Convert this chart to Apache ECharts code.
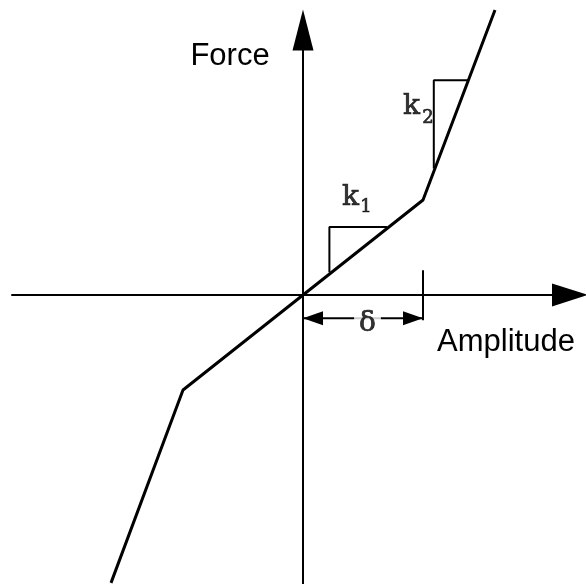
<!DOCTYPE html>
<html>
<head>
<meta charset="utf-8">
<script src="https://cdn.jsdelivr.net/npm/echarts@6/dist/echarts.min.js"></script>
<style>
  html, body { margin: 0; padding: 0; background: #fff; }
  #chart { width: 586px; height: 584px; }
</style>
</head>
<body>
<div id="chart"></div>
<script>
// Bilinear stiffness: amplitude in units of the gap δ, force in units of k1·δ
const amplitude = [-1.6, -1, 0, 1, 1.6];
const force = [-3.03, -1, 0, 1, 3.0];

// Slope triangles marking k1 and k2
const k1TriX = [0.22, 0.22, 0.70];
const k1TriY = [0.24, 0.715, 0.715];
const k2TriX = [1.09, 1.09, 1.38];
const k2TriY = [1.33, 2.26, 2.26];

// Gap dimension: end tick at δ and the double arrow under the axis
const gapTickX = [1, 1];
const gapTickY = [0.26, -0.265];
const gapLineX = [0, 1];
const gapLineY = [-0.245, -0.245];
const gapArrowDir = [-1, 1];

// Annotation texts and where they sit
const noteText = ['k', '1', 'k', '2', 'δ'];
const noteX = [0.396, 0.525, 0.904, 1.042, 0.5375];
const noteY = [1.026, 0.926, 1.984, 1.863, -0.305];
const noteKind = ['main', 'sub', 'main', 'sub', 'delta'];

const axisNames = ['Amplitude', 'Force'];

const pairs = (xs, ys) => xs.map((x, i) => [x, ys[i]]);

// serif glyphs get a thin same-colour outline so their strokes read as solid black
const plainText = { color: '#000', textBorderWidth: 0.7, textBorderColor: '#000', textShadowBlur: 0 };
const noteStyles = {
  main:  Object.assign({ fontFamily: 'DejaVu Serif', fontSize: 28 }, plainText),
  sub:   Object.assign({ fontFamily: 'DejaVu Serif', fontSize: 18 }, plainText),
  delta: Object.assign({ fontFamily: 'DejaVu Serif', fontSize: 28,
                         backgroundColor: '#fff', padding: [0, 5, 0, 5] }, plainText)
};

const chart = echarts.init(document.getElementById('chart'), null, { renderer: 'canvas' });

const hiddenAxisBits = {
  axisTick: { show: false },
  axisLabel: { show: false },
  splitLine: { show: false }
};

chart.setOption({
  animation: false,
  backgroundColor: '#fff',
  grid: { left: 12, right: 16, top: 30, bottom: 0, outerBoundsMode: 'none' },
  xAxis: Object.assign({
    type: 'value',
    min: -2.425,
    max: 2.225,
    axisLine: {
      onZero: true,
      symbol: ['none', 'triangle'],
      symbolSize: [23, 36],
      lineStyle: { color: '#000', width: 2 }
    }
  }, hiddenAxisBits),
  yAxis: Object.assign({
    type: 'value',
    min: -3.042,
    max: 2.789,
    axisLine: {
      onZero: true,
      symbol: ['none', 'triangle'],
      symbolSize: [21, 41],
      lineStyle: { color: '#000', width: 2 }
    }
  }, hiddenAxisBits),
  graphic: [
    {
      type: 'text', x: 506, y: 342,
      style: { text: axisNames[0], fontFamily: 'Liberation Sans', fontSize: 31,
               fill: '#000', align: 'center', verticalAlign: 'middle' }
    },
    {
      type: 'text', x: 230, y: 56,
      style: { text: axisNames[1], fontFamily: 'Liberation Sans', fontSize: 31,
               fill: '#000', align: 'center', verticalAlign: 'middle' }
    }
  ],
  series: [
    {
      name: 'force',
      type: 'line',
      data: pairs(amplitude, force),
      symbol: 'none',
      clip: false,
      lineStyle: { color: '#000', width: 3 },
      z: 5
    },
    {
      name: 'k1 slope',
      type: 'line',
      data: pairs(k1TriX, k1TriY),
      symbol: 'none',
      clip: false,
      lineStyle: { color: '#000', width: 2 }
    },
    {
      name: 'k2 slope',
      type: 'line',
      data: pairs(k2TriX, k2TriY),
      symbol: 'none',
      clip: false,
      lineStyle: { color: '#000', width: 2 }
    },
    {
      name: 'gap tick',
      type: 'line',
      data: pairs(gapTickX, gapTickY),
      symbol: 'none',
      clip: false,
      lineStyle: { color: '#000', width: 2 }
    },
    {
      name: 'gap line',
      type: 'line',
      data: pairs(gapLineX, gapLineY),
      symbol: 'none',
      clip: false,
      lineStyle: { color: '#000', width: 2 }
    },
    {
      name: 'gap arrows',
      type: 'custom',
      clip: false,
      data: gapLineX.map((x, i) => [x, gapLineY[i], gapArrowDir[i]]),
      renderItem: function (params, api) {
        const p = api.coord([api.value(0), api.value(1)]);
        const d = api.value(2);
        const len = 20, half = 7;
        return {
          type: 'polygon',
          shape: { points: [[p[0], p[1]], [p[0] - d * len, p[1] - half], [p[0] - d * len, p[1] + half]] },
          style: { fill: '#000' }
        };
      },
      z: 6
    },
    {
      name: 'notes',
      type: 'scatter',
      symbolSize: 0,
      clip: false,
      z: 10,
      itemStyle: { color: '#000' },
      data: noteText.map((t, i) => ({
        value: [noteX[i], noteY[i]],
        label: Object.assign({
          show: true,
          position: 'inside',
          formatter: t
        }, noteStyles[noteKind[i]])
      }))
    }
  ]
});
</script>
</body>
</html>
